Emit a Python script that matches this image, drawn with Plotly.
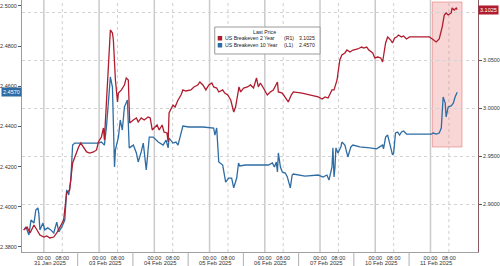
import plotly.graph_objects as go

# ---------------- data (hours on a compressed trading-time axis; 31 Jan 00:00 = 0) ----------------
day_labels = ["31 Jan 2025", "03 Feb 2025", "04 Feb 2025", "05 Feb 2025",
              "06 Feb 2025", "07 Feb 2025", "10 Feb 2025", "11 Feb 2025"]
intraday_ticks = ["00:00", "08:00"]

hours_2y = [-8.8, -7.3, -6.0, -4.3, -3.0, -1.7, 0.0, 1.3, 2.6, 4.3,
            5.6, 6.9, 8.6, 9.9, 11.2, 12.5, 13.4, 15.1, 16.0, 17.3,
            18.6, 19.9, 21.6, 22.9, 23.7, 25.0, 25.9, 26.3, 27.6, 28.1,
            28.9, 29.8, 30.2, 31.1, 32.0, 32.4, 33.7, 35.0, 35.8, 36.7,
            37.3, 38.9, 40.2, 41.0, 42.3, 43.6, 45.3, 46.2, 47.1, 47.9,
            49.2, 50.1, 51.4, 52.2, 53.5, 54.0, 54.4, 56.1, 57.0, 58.3,
            59.6, 60.4, 61.7, 63.9, 65.2, 66.9, 67.8, 69.1, 70.4, 71.7,
            73.0, 73.8, 75.1, 76.0, 77.7, 78.6, 79.9, 81.2, 82.5, 83.3,
            84.2, 84.8, 85.5, 86.8, 88.5, 89.8, 91.1, 92.4, 93.2, 94.1,
            95.4, 97.1, 98.4, 99.7, 101.5, 101.9, 103.6, 104.9, 106.2, 107.5,
            108.4, 112.2, 116.6, 119.2, 120.9, 122.2, 123.5, 125.2, 126.1, 126.9,
            127.4, 128.6, 129.5, 130.8, 131.7, 133.0, 134.3, 136.4, 138.1, 139.0,
            140.3, 141.2, 142.9, 143.8, 145.1, 146.4, 147.2, 148.5, 149.4, 150.7,
            151.5, 152.4, 153.3, 154.1, 155.4, 156.3, 157.6, 158.9, 163.2, 167.5,
            168.8, 170.5, 171.8, 173.1, 174.0, 174.8, 175.7, 177.0, 177.4, 178.3, 179.2, 179.6]
breakeven_2y = [2.8729, 2.8760, 2.8698, 2.8781, 2.8729, 2.8677, 2.8656, 2.8667, 2.8646, 2.8656,
                2.8698, 2.8750, 2.8833, 2.9115, 2.9146, 2.9427, 2.9490, 2.9594, 2.9635, 2.9583,
                2.9542, 2.9531, 2.9542, 2.9563, 2.9646, 2.9698, 2.9792, 2.9667, 3.0219, 3.0531,
                3.0813, 3.0781, 3.0708, 3.0292, 3.0063, 3.0156, 3.0188, 3.0240, 3.0313, 3.0292,
                2.9844, 2.9875, 2.9896, 2.9854, 2.9896, 2.9875, 2.9906, 2.9896, 2.9771, 2.9792,
                2.9823, 2.9771, 2.9823, 2.9750, 2.9740, 2.9646, 2.9948, 3.0031, 3.0010, 3.0083,
                3.0135, 3.0188, 3.0177, 3.0188, 3.0219, 3.0240, 3.0271, 3.0240, 3.0188, 3.0240,
                3.0260, 3.0219, 3.0208, 3.0167, 3.0188, 3.0156, 3.0135, 3.0083, 2.9958, 3.0010,
                3.0115, 3.0219, 3.0167, 3.0208, 3.0219, 3.0240, 3.0208, 3.0313, 3.0219, 3.0260,
                3.0208, 3.0135, 3.0167, 3.0188, 3.0271, 3.0167, 3.0156, 3.0115, 3.0063, 3.0135,
                3.0167, 3.0156, 3.0135, 3.0115, 3.0094, 3.0115, 3.0104, 3.0188, 3.0188, 3.0240,
                3.0292, 3.0500, 3.0552, 3.0573, 3.0604, 3.0583, 3.0604, 3.0615, 3.0635, 3.0625,
                3.0635, 3.0604, 3.0573, 3.0521, 3.0531, 3.0521, 3.0479, 3.0677, 3.0740, 3.0708,
                3.0677, 3.0729, 3.0740, 3.0760, 3.0740, 3.0750, 3.0719, 3.0740, 3.0740, 3.0740,
                3.0719, 3.0688, 3.0719, 3.0844, 3.0969, 3.0990, 3.0969, 3.0990, 3.1042, 3.1021, 3.1042, 3.1025]

hours_10y = [-8.6, -7.8, -6.5, -5.6, -4.3, -3.5, -2.6, -2.2, -1.7, -0.4,
             0.4, 1.7, 3.0, 4.3, 5.6, 6.5, 7.8, 9.1, 9.9, 10.8,
             11.7, 12.5, 13.4, 23.7, 25.0, 26.3, 27.2, 28.1, 28.9, 29.8,
             30.7, 31.1, 32.4, 33.2, 34.1, 35.0, 36.3, 37.1, 38.9, 40.2,
             41.0, 42.3, 43.2, 44.5, 45.8, 47.5, 49.7, 51.8, 53.1, 54.0,
             54.4, 56.1, 57.4, 58.3, 59.1, 60.4, 63.0, 69.1, 73.8, 74.3,
             75.1, 76.0, 77.7, 79.0, 80.3, 81.6, 82.5, 83.8, 84.6, 85.1,
             87.6, 92.0, 97.6, 99.3, 100.2, 101.0, 101.5, 101.9, 102.8, 103.6,
             104.9, 105.8, 106.2, 107.1, 107.9, 108.4, 113.5, 119.2, 121.3, 123.0,
             123.9, 125.2, 125.6, 126.1, 126.5, 126.9, 127.8, 129.1, 129.5, 130.8,
             132.1, 133.4, 134.3, 137.3, 141.6, 144.6, 145.9, 147.2, 147.6, 148.5,
             149.4, 150.7, 151.5, 152.0, 152.8, 153.7, 154.6, 155.4, 156.3, 157.6,
             161.9, 168.4, 169.2, 170.5, 171.8, 172.7, 173.5, 174.4, 174.8, 175.7,
             177.0, 177.9, 178.7, 179.6]
breakeven_10y = [2.3885, 2.3900, 2.3860, 2.3934, 2.3919, 2.3984, 2.3994, 2.3969, 2.3885, 2.3919,
                 2.3885, 2.3895, 2.3885, 2.3870, 2.3924, 2.3875, 2.3900, 2.3934, 2.4084, 2.4059,
                 2.4133, 2.4307, 2.4317, 2.4317, 2.4322, 2.4307, 2.4397, 2.4546, 2.4646, 2.4596,
                 2.4198, 2.4283, 2.4347, 2.4432, 2.4382, 2.4497, 2.4531, 2.4293, 2.4307, 2.4268,
                 2.4223, 2.4273, 2.4317, 2.4183, 2.4347, 2.4347, 2.4322, 2.4307, 2.4332, 2.4293,
                 2.4342, 2.4317, 2.4322, 2.4307, 2.4342, 2.4402, 2.4397, 2.4397, 2.4392, 2.4357,
                 2.4392, 2.4223, 2.4208, 2.4123, 2.4143, 2.4143, 2.4094, 2.4143, 2.4218, 2.4203,
                 2.4208, 2.4208, 2.4208, 2.4218, 2.4198, 2.4223, 2.4173, 2.4268, 2.4198, 2.4173,
                 2.4168, 2.4148, 2.4133, 2.4094, 2.4158, 2.4163, 2.4153, 2.4158, 2.4148, 2.4158,
                 2.4133, 2.4198, 2.4293, 2.4148, 2.4198, 2.4293, 2.4268, 2.4298, 2.4322, 2.4307,
                 2.4248, 2.4298, 2.4307, 2.4298, 2.4293, 2.4288, 2.4298, 2.4307, 2.4288, 2.4347,
                 2.4357, 2.4298, 2.4258, 2.4268, 2.4367, 2.4372, 2.4357, 2.4372, 2.4377, 2.4362,
                 2.4362, 2.4362, 2.4367, 2.4362, 2.4367, 2.4392, 2.4546, 2.4516, 2.4447, 2.4497,
                 2.4502, 2.4516, 2.4546, 2.4570]

left_ticks = [2.38, 2.40, 2.42, 2.44, 2.46, 2.48, 2.50]
right_ticks = [2.90, 2.95, 3.00, 3.05, 3.10]
right_ticktext = ["2.9000", "2.9500", "3.0000", "3.0500", ""]  # 3.10 sits under the last-price tag
last_2y = breakeven_2y[-1]
last_10y = breakeven_10y[-1]
highlight_hours = [168.8, 181.7]

# ---------------- styling ----------------
RED = "#b01c2e"
BLUE = "#2e6ca4"
FONT = "Liberation Sans"
TXT = "#333333"
W, H = 500, 266
ML, MR, MT, MB = 20, 21, 0, 14
PW, PH = W - ML - MR, H - MT - MB


def px(x):
    return (x - ML) / PW


def py(y):
    return (H - MB - y) / PH


fig = go.Figure()
fig.add_trace(go.Scatter(x=hours_10y, y=breakeven_10y, mode="lines", yaxis="y",
                         line=dict(color=BLUE, width=1.3), showlegend=False, hoverinfo="skip"))
fig.add_trace(go.Scatter(x=hours_2y, y=breakeven_2y, mode="lines", yaxis="y2",
                         line=dict(color=RED, width=1.3), showlegend=False, hoverinfo="skip"))

tickvals, ticktext = [], []
for k in range(len(day_labels)):
    tickvals += [24 * k, 24 * k + 8]
    ticktext += intraday_ticks

shapes = []
for k in range(len(day_labels)):
    shapes.append(dict(type="line", xref="x", yref="paper", x0=24 * k, x1=24 * k, y0=0, y1=1,
                       line=dict(color="#cacaca", width=1.5), layer="below"))
    shapes.append(dict(type="line", xref="x", yref="paper", x0=24 * k + 8, x1=24 * k + 8, y0=0, y1=1,
                       line=dict(color="#cfcfcf", width=1, dash="dot"), layer="below"))
    if k < len(day_labels) - 1:
        shapes.append(dict(type="line", xref="x", yref="paper", x0=24 * k + 14.7, x1=24 * k + 14.7,
                           y0=0, y1=-MB / PH, line=dict(color="#b0b0b0", width=1)))

# highlight box
shapes.append(dict(type="rect", xref="x", yref="paper", x0=highlight_hours[0], x1=highlight_hours[1],
                   y0=py(147), y1=py(2), fillcolor="rgba(236,120,120,0.30)",
                   line=dict(color="rgba(225,110,110,0.55)", width=1), layer="below"))

# legend box
shapes.append(dict(type="rect", xref="paper", yref="paper", x0=px(214), x1=px(320), y0=py(54), y1=py(27),
                   fillcolor="white", line=dict(color="#9a9a9a", width=1)))
shapes.append(dict(type="rect", xref="paper", yref="paper", x0=px(217), x1=px(221.5), y0=py(40.5), y1=py(36),
                   fillcolor=RED, line=dict(width=0)))
shapes.append(dict(type="rect", xref="paper", yref="paper", x0=px(217), x1=px(221.5), y0=py(47.5), y1=py(43),
                   fillcolor=BLUE, line=dict(width=0)))

annotations = []
for k, lab in enumerate(day_labels):
    annotations.append(dict(text=lab, xref="x", yref="paper", x=24 * k + 2.6, y=py(262.5),
                            showarrow=False, font=dict(size=5.8, color=TXT, family=FONT),
                            xanchor="center", yanchor="middle"))

leg_font = dict(size=5.2, color="#222222", family=FONT)
row1, row2 = 38.3, 45.3
annotations += [
    dict(text="Last Price", xref="paper", yref="paper", x=px(264), y=py(31.8), showarrow=False,
         font=leg_font, xanchor="center", yanchor="middle"),
    dict(text="US Breakeven 2 Year", xref="paper", yref="paper", x=px(222.5), y=py(row1), showarrow=False,
         font=leg_font, xanchor="left", yanchor="middle"),
    dict(text="(R1)", xref="paper", yref="paper", x=px(282), y=py(row1), showarrow=False,
         font=leg_font, xanchor="left", yanchor="middle"),
    dict(text=f"{last_2y:.4f}", xref="paper", yref="paper", x=px(317), y=py(row1), showarrow=False,
         font=leg_font, xanchor="right", yanchor="middle"),
    dict(text="US Breakeven 10 Year", xref="paper", yref="paper", x=px(222.5), y=py(row2), showarrow=False,
         font=leg_font, xanchor="left", yanchor="middle"),
    dict(text="(L1)", xref="paper", yref="paper", x=px(282), y=py(row2), showarrow=False,
         font=leg_font, xanchor="left", yanchor="middle"),
    dict(text=f"{last_10y:.4f}", xref="paper", yref="paper", x=px(317), y=py(row2), showarrow=False,
         font=leg_font, xanchor="right", yanchor="middle"),
    # last-value tags
    dict(text=f"{last_10y:.4f}", xref="paper", yref="y", x=0, y=last_10y, showarrow=False,
         xanchor="right", yanchor="middle", bgcolor=BLUE, borderpad=1,
         font=dict(size=5.5, color="white", family=FONT)),
    dict(text=f"{last_2y:.4f}", xref="paper", yref="y2", x=1, y=last_2y, showarrow=False,
         xanchor="left", yanchor="middle", bgcolor=RED, borderpad=1,
         font=dict(size=5.5, color="white", family=FONT)),
]

fig.update_layout(
    width=W, height=H,
    margin=dict(l=ML, r=MR, t=MT, b=MB),
    paper_bgcolor="white", plot_bgcolor="white",
    font=dict(family=FONT, size=6, color=TXT),
    showlegend=False,
    xaxis=dict(range=[-9.5, 188.65], tickmode="array", tickvals=tickvals, ticktext=ticktext,
               showgrid=False, zeroline=False, showline=True, linecolor="#a0a0a0", linewidth=1,
               ticks="", tickangle=0, tickfont=dict(size=5.5, color=TXT, family=FONT)),
    yaxis=dict(range=[2.3775, 2.5029], tickmode="array", tickvals=left_ticks, tickformat=".4f",
               showgrid=False, zeroline=False, showline=True, linecolor="#9a9a9a", linewidth=1,
               ticks="outside", ticklen=3, tickcolor="#555555",
               tickfont=dict(size=5.5, color=TXT, family=FONT)),
    yaxis2=dict(range=[2.85, 3.1125], overlaying="y", side="right", tickmode="array",
                tickvals=right_ticks, ticktext=right_ticktext, showgrid=True, gridcolor="#d2d2d2",
                griddash="dot", gridwidth=1, zeroline=False, showline=True, linecolor="#8a5a62",
                linewidth=1, ticks="outside", ticklen=3, tickcolor="#555555",
                tickfont=dict(size=5.5, color=TXT, family=FONT)),
    shapes=shapes,
    annotations=annotations,
)

fig.write_html("out.html")
